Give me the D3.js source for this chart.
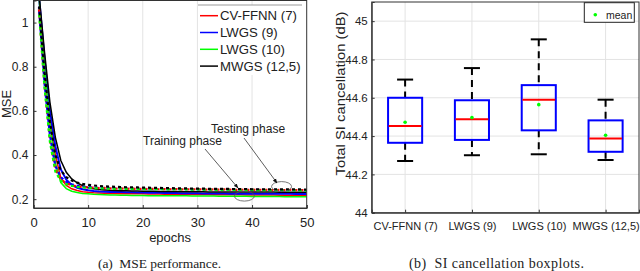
<!DOCTYPE html>
<html>
<head>
<meta charset="utf-8">
<script src="https://cdn.jsdelivr.net/npm/d3@7"></script>
<style>
  body { margin: 0; background: #fff; }
  text { font-family: "Liberation Sans", Arial, sans-serif; }
</style>
</head>
<body>
<div id="graph"></div>
<script>
const width = 640;
const height = 271;

// ---- left panel: MSE per epoch ----
const epochs = [1,2,3,4,5,6,7,8,9,10,11,12,13,14,15,16,17,18,19,20,21,22,23,24,25,26,27,28,29,30,31,32,33,34,35,36,37,38,39,40,41,42,43,44,45,46,47,48,49,50];
const mseNames = ["CV-FFNN (7)", "LWGS (9)", "LWGS (10)", "MWGS (12,5)"];
const mseColors = ["#ff0000", "#0000ff", "#00ff00", "#000000"];

const trainCV = [1.12,0.82,0.57,0.40,0.295,0.262,0.247,0.239,0.234,0.231,0.229,0.228,0.227,0.226,0.226,0.225,0.225,0.224,0.224,0.224,0.223,0.223,0.223,0.222,0.222,0.222,0.222,0.221,0.221,0.221,0.221,0.221,0.220,0.220,0.220,0.220,0.220,0.220,0.219,0.219,0.219,0.219,0.219,0.219,0.218,0.218,0.218,0.218,0.218,0.218];
const trainL9 = [1.12,0.84,0.60,0.44,0.335,0.288,0.264,0.252,0.245,0.240,0.237,0.235,0.234,0.233,0.232,0.232,0.231,0.231,0.230,0.230,0.229,0.229,0.229,0.228,0.228,0.228,0.227,0.227,0.227,0.227,0.226,0.226,0.226,0.226,0.226,0.225,0.225,0.225,0.225,0.225,0.225,0.224,0.224,0.224,0.224,0.224,0.224,0.223,0.223,0.223];
const trainL10 = [1.12,0.80,0.54,0.365,0.275,0.248,0.236,0.230,0.226,0.224,0.222,0.221,0.220,0.219,0.219,0.218,0.218,0.217,0.217,0.217,0.216,0.216,0.216,0.216,0.215,0.215,0.215,0.215,0.214,0.214,0.214,0.214,0.214,0.213,0.213,0.213,0.213,0.213,0.213,0.212,0.212,0.212,0.212,0.212,0.212,0.211,0.211,0.211,0.211,0.211];
const trainMW = [1.13,0.87,0.64,0.48,0.375,0.322,0.292,0.274,0.261,0.252,0.247,0.244,0.242,0.240,0.239,0.238,0.238,0.237,0.237,0.236,0.236,0.236,0.235,0.235,0.235,0.235,0.234,0.234,0.234,0.234,0.234,0.233,0.233,0.233,0.233,0.233,0.233,0.232,0.232,0.232,0.232,0.232,0.232,0.232,0.231,0.231,0.231,0.231,0.231,0.231];

const testCV = [1.06,0.72,0.47,0.335,0.29,0.272,0.263,0.258,0.255,0.253,0.252,0.250,0.251,0.249,0.248,0.249,0.247,0.248,0.246,0.247,0.246,0.247,0.245,0.246,0.245,0.246,0.244,0.245,0.244,0.245,0.244,0.243,0.244,0.243,0.244,0.243,0.242,0.243,0.242,0.243,0.242,0.243,0.242,0.241,0.242,0.241,0.242,0.241,0.241,0.240];
const testL9 = [1.07,0.73,0.49,0.35,0.30,0.278,0.267,0.261,0.257,0.255,0.253,0.252,0.251,0.251,0.250,0.249,0.249,0.248,0.248,0.247,0.247,0.246,0.247,0.246,0.245,0.246,0.245,0.245,0.244,0.245,0.244,0.244,0.243,0.244,0.243,0.243,0.243,0.242,0.243,0.242,0.242,0.242,0.241,0.242,0.241,0.241,0.241,0.240,0.241,0.240];
const testL10 = [1.05,0.71,0.46,0.325,0.283,0.268,0.260,0.256,0.253,0.251,0.250,0.249,0.249,0.248,0.247,0.248,0.246,0.247,0.246,0.246,0.245,0.246,0.245,0.245,0.244,0.245,0.244,0.244,0.243,0.244,0.243,0.243,0.243,0.242,0.243,0.242,0.242,0.242,0.241,0.242,0.241,0.241,0.241,0.240,0.241,0.240,0.240,0.240,0.239,0.239];
const testMW = [1.08,0.78,0.55,0.40,0.33,0.300,0.284,0.275,0.269,0.265,0.262,0.260,0.258,0.257,0.256,0.255,0.254,0.254,0.253,0.252,0.252,0.251,0.251,0.250,0.250,0.249,0.249,0.249,0.248,0.248,0.248,0.247,0.247,0.247,0.247,0.246,0.246,0.246,0.246,0.245,0.245,0.245,0.245,0.245,0.244,0.244,0.244,0.244,0.244,0.243];

const trainSeries = [trainCV, trainL9, trainL10, trainMW];
const testSeries = [testCV, testL9, testL10, testMW];
const mseXTicks = [0, 10, 20, 30, 40, 50];
const mseYTicks = [0.2, 0.4, 0.6, 0.8, 1];

// ---- right panel: SI cancellation boxplots ----
const boxCats = ["CV-FFNN (7)", "LWGS (9)", "LWGS (10)", "MWGS (12,5)"];
const boxLow  = [44.27, 44.30, 44.305, 44.275];
const boxQ1   = [44.365, 44.38, 44.43, 44.318];
const boxMed  = [44.453, 44.488, 44.59, 44.387];
const boxQ3   = [44.60, 44.587, 44.666, 44.482];
const boxHigh = [44.695, 44.755, 44.905, 44.59];
const boxMean = [44.472, 44.497, 44.564, 44.404];
const siYTicks = [44, 44.2, 44.4, 44.6, 44.8, 45];

const svg = d3.select("#graph")
  .append("svg")
  .attr("width", width)
  .attr("height", height)
  .style("background", "#fff");

// ================= left panel =================
const x1 = d3.scaleLinear().domain([0, 50]).range([33.5, 306.7]);
const y1 = d3.scaleLinear().domain([0.16, 1.1]).range([208, 0.5]);

svg.append("clipPath").attr("id", "clipL")
  .append("rect")
  .attr("x", x1(0)).attr("y", y1(1.1))
  .attr("width", x1(50) - x1(0)).attr("height", y1(0.16) - y1(1.1));

// vertical grid
svg.append("g")
  .selectAll("line")
  .data(mseXTicks.slice(1, -1))
  .join("line")
  .attr("x1", d => x1(d)).attr("x2", d => x1(d))
  .attr("y1", y1(1.1)).attr("y2", y1(0.16))
  .attr("stroke", "#e3e3e3").attr("stroke-width", 1);

const line1 = d3.line().x((d, i) => x1(epochs[i])).y(d => y1(d));
const curves = svg.append("g").attr("clip-path", "url(#clipL)");

trainSeries.forEach((s, k) => {
  curves.append("path")
    .datum(s)
    .attr("d", line1)
    .attr("fill", "none")
    .attr("stroke", mseColors[k])
    .attr("stroke-width", k === 1 ? 2 : 1.5);
});
testSeries.forEach((s, k) => {
  curves.append("path")
    .datum(s)
    .attr("d", line1)
    .attr("fill", "none")
    .attr("stroke", mseColors[k])
    .attr("stroke-width", 2.2)
    .attr("stroke-dasharray", "3,3")
    .attr("stroke-dashoffset", k * 1.5);
});

// axes
const ax1 = svg.append("g").attr("transform", `translate(0,${y1(0.16)})`)
  .call(d3.axisBottom(x1).tickValues(mseXTicks).tickSize(-3).tickPadding(10).tickFormat(d3.format("d")));
const ay1 = svg.append("g").attr("transform", `translate(${x1(0)},0)`)
  .call(d3.axisLeft(y1).tickValues(mseYTicks).tickSize(-3).tickPadding(5).tickFormat(d => d === 1 ? "1" : d3.format(".1f")(d)));
[ax1, ay1].forEach(a => {
  a.select(".domain").attr("stroke", "#333");
  a.selectAll(".tick line").attr("stroke", "#333");
  a.selectAll("text").attr("fill", "#222")
    .style("font-family", "'Liberation Sans', Arial, sans-serif");
});
ax1.selectAll("text").attr("font-size", 13);
ay1.selectAll("text").attr("font-size", 12);
svg.append("rect")
  .attr("x", x1(0)).attr("y", y1(1.1))
  .attr("width", x1(50) - x1(0)).attr("height", y1(0.16) - y1(1.1))
  .attr("fill", "none").attr("stroke", "#333").attr("stroke-width", 1);

svg.append("text")
  .attr("x", (x1(0) + x1(50)) / 2).attr("y", 242)
  .attr("text-anchor", "middle").attr("font-size", 13).attr("fill", "#222")
  .text("epochs");
svg.append("text")
  .attr("transform", `translate(10.5,${104}) rotate(-90)`)
  .attr("text-anchor", "middle").attr("font-size", 13).attr("fill", "#222")
  .text("MSE");

// legend
const leg1 = svg.append("g");
leg1.append("rect").attr("x", 198).attr("y", 5).attr("width", 104).attr("height", 70)
  .attr("fill", "#fff").attr("stroke", "none");
leg1.append("line").attr("x1", 198).attr("x2", 302).attr("y1", 5).attr("y2", 5)
  .attr("stroke", "#999");
mseNames.forEach((name, i) => {
  const yy = 15.7 + i * 16.8;
  leg1.append("line").attr("x1", 200).attr("x2", 218).attr("y1", yy).attr("y2", yy)
    .attr("stroke", mseColors[i]).attr("stroke-width", 1.5);
  leg1.append("text").attr("x", 220).attr("y", yy + 4.7)
    .attr("font-size", 13.2).attr("fill", "#222").text(name);
});

// annotations
svg.append("defs").append("marker")
  .attr("id", "arrow").attr("viewBox", "0 0 10 10")
  .attr("refX", 9).attr("refY", 5)
  .attr("markerWidth", 6).attr("markerHeight", 6)
  .attr("orient", "auto")
  .append("path").attr("d", "M0,1 L10,5 L0,9 z").attr("fill", "#111");

const annotations = [
  {label: "Training phase", tx: 143, ty: 144.5, ex: 38.6, ey: 0.214},
  {label: "Testing phase", tx: 211, ty: 132.5, ex: 45.4, ey: 0.257}
];
annotations.forEach(a => {
  svg.append("text").attr("x", a.tx).attr("y", a.ty)
    .attr("font-size", 12).attr("fill", "#222").text(a.label);
  svg.append("ellipse")
    .attr("cx", x1(a.ex)).attr("cy", y1(a.ey)).attr("rx", 10).attr("ry", 5)
    .attr("fill", "none").attr("stroke", "#555").attr("stroke-width", 0.8);
});
svg.append("line").attr("x1", 205).attr("y1", 149).attr("x2", 238).attr("y2", 188)
  .attr("stroke", "#333").attr("stroke-width", 0.8).attr("marker-end", "url(#arrow)");
svg.append("line").attr("x1", 244).attr("y1", 138).attr("x2", 277).attr("y2", 183)
  .attr("stroke", "#333").attr("stroke-width", 0.8).attr("marker-end", "url(#arrow)");

svg.append("text")
  .attr("x", 98).attr("y", 268)
  .attr("font-size", 13.5).attr("fill", "#222")
  .attr("textLength", 123).attr("lengthAdjust", "spacing")
  .style("font-family", "'Liberation Serif', 'Times New Roman', serif")
  .style("white-space", "pre")
  .text("(a)  MSE performance.");

// ================= right panel =================
const x2 = d3.scaleLinear().domain([0.5, 4.5]).range([371.7, 639]);
const y2 = d3.scaleLinear().domain([44, 45.1]).range([212.7, 2]);

const grid2 = svg.append("g");
grid2.selectAll("line.h").data(siYTicks.slice(1))
  .join("line").attr("class", "h")
  .attr("x1", x2(0.5)).attr("x2", x2(4.5))
  .attr("y1", d => y2(d)).attr("y2", d => y2(d))
  .attr("stroke", "#e3e3e3");
grid2.selectAll("line.v").data(boxCats)
  .join("line").attr("class", "v")
  .attr("x1", (d, i) => x2(i + 1)).attr("x2", (d, i) => x2(i + 1))
  .attr("y1", y2(45.1)).attr("y2", y2(44))
  .attr("stroke", "#e3e3e3");

const boxes = svg.append("g").selectAll("g").data(boxCats).join("g");
// whiskers
boxes.append("line")
  .attr("x1", (d, i) => x2(i + 1)).attr("x2", (d, i) => x2(i + 1))
  .attr("y1", (d, i) => y2(boxHigh[i])).attr("y2", (d, i) => y2(boxQ3[i]))
  .attr("stroke", "#000").attr("stroke-width", 2).attr("stroke-dasharray", "7,5");
boxes.append("line")
  .attr("x1", (d, i) => x2(i + 1)).attr("x2", (d, i) => x2(i + 1))
  .attr("y1", (d, i) => y2(boxQ1[i])).attr("y2", (d, i) => y2(boxLow[i]))
  .attr("stroke", "#000").attr("stroke-width", 2).attr("stroke-dasharray", "7,5");
// caps
[boxHigh, boxLow].forEach(arr => {
  boxes.append("line")
    .attr("x1", (d, i) => x2(i + 1 - 0.12)).attr("x2", (d, i) => x2(i + 1 + 0.12))
    .attr("y1", (d, i) => y2(arr[i])).attr("y2", (d, i) => y2(arr[i]))
    .attr("stroke", "#000").attr("stroke-width", 2);
});
// boxes
boxes.append("rect")
  .attr("x", (d, i) => x2(i + 1 - 0.255))
  .attr("width", x2(1.255) - x2(0.745))
  .attr("y", (d, i) => y2(boxQ3[i]))
  .attr("height", (d, i) => y2(boxQ1[i]) - y2(boxQ3[i]))
  .attr("fill", "none").attr("stroke", "#0000ff").attr("stroke-width", 2);
// medians
boxes.append("line")
  .attr("x1", (d, i) => x2(i + 1 - 0.245)).attr("x2", (d, i) => x2(i + 1 + 0.245))
  .attr("y1", (d, i) => y2(boxMed[i])).attr("y2", (d, i) => y2(boxMed[i]))
  .attr("stroke", "#ff0000").attr("stroke-width", 2);
// means
boxes.append("circle")
  .attr("cx", (d, i) => x2(i + 1)).attr("cy", (d, i) => y2(boxMean[i]))
  .attr("r", 1.8).attr("fill", "#00ff00");

const ax2 = svg.append("g").attr("transform", `translate(0,${y2(44)})`)
  .call(d3.axisBottom(x2).tickValues([1, 2, 3, 4]).tickSize(-3).tickPadding(10)
    .tickFormat(d => boxCats[d - 1]));
const ay2 = svg.append("g").attr("transform", `translate(${x2(0.5)},0)`)
  .call(d3.axisLeft(y2).tickValues(siYTicks).tickSize(-3).tickPadding(4)
    .tickFormat(d => d3.format("")(+d.toFixed(1))));
[ax2, ay2].forEach(a => {
  a.select(".domain").attr("stroke", "#333");
  a.selectAll(".tick line").attr("stroke", "#333");
  a.selectAll("text").attr("fill", "#222")
    .style("font-family", "'Liberation Sans', Arial, sans-serif");
});
ax2.selectAll("text").attr("font-size", 11);
ay2.selectAll("text").attr("font-size", 11.5);
svg.append("rect")
  .attr("x", x2(0.5)).attr("y", y2(45.1))
  .attr("width", x2(4.5) - x2(0.5)).attr("height", y2(44) - y2(45.1))
  .attr("fill", "none").attr("stroke", "#333").attr("stroke-width", 1);

svg.append("text")
  .attr("transform", `translate(344.5,${93.5}) rotate(-90)`)
  .attr("text-anchor", "middle").attr("font-size", 13.5).attr("fill", "#222")
  .attr("textLength", 164).attr("lengthAdjust", "spacingAndGlyphs")
  .text("Total SI cancellation (dB)");

// legend "mean"
const leg2 = svg.append("g");
leg2.append("rect").attr("x", 584.3).attr("y", 2.7).attr("width", 50).attr("height", 19.6)
  .attr("fill", "#fff").attr("stroke", "#222").attr("stroke-width", 1);
leg2.append("circle").attr("cx", 595.3).attr("cy", 14.7).attr("r", 1.8).attr("fill", "#00ff00");
leg2.append("text").attr("x", 606).attr("y", 18.8).attr("font-size", 10.5).attr("fill", "#222").text("mean");

svg.append("text")
  .attr("x", 409).attr("y", 268)
  .attr("font-size", 14).attr("fill", "#222")
  .attr("textLength", 175).attr("lengthAdjust", "spacing")
  .style("font-family", "'Liberation Serif', 'Times New Roman', serif")
  .style("white-space", "pre")
  .text("(b)  SI cancellation boxplots.");
</script>
</body>
</html>
